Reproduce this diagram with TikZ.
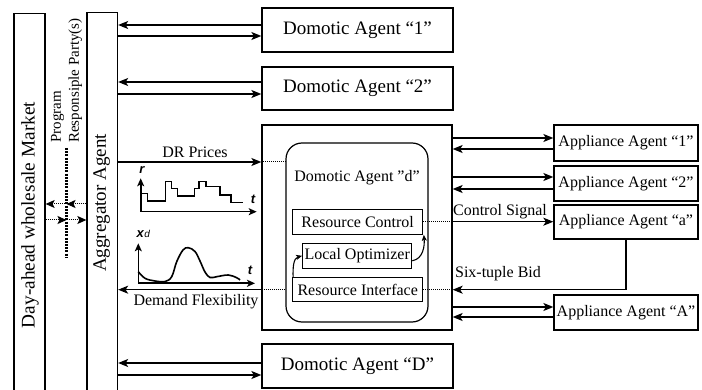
\documentclass[tikz,border=0pt]{standalone}
\usepackage{fontspec}
\setmainfont{Liberation Serif}
\setsansfont{Liberation Sans}
\usetikzlibrary{arrows.meta,calc}

\begin{document}
\begin{tikzpicture}[x=1pt,y=-1pt,
  lw/.style={line width=1.3pt},
  bigbox/.style={draw,lw,inner sep=0pt,font=\fontsize{19}{21}\selectfont},
  appbox/.style={draw,lw,inner sep=0pt,minimum width=144pt,font=\fontsize{16}{18}\selectfont},
  resbox/.style={draw,line width=1.2pt,inner sep=0pt,minimum height=25pt,font=\fontsize{16}{18}\selectfont},
  lbl/.style={inner sep=0pt,font=\fontsize{16}{18}\selectfont},
  arr/.style={lw,-{Stealth[length=10pt,width=8pt,inset=2.5pt]}},
  dotarr/.style={line width=1pt,dash pattern=on 1pt off 1pt,-{Stealth[length=9pt,width=8pt,inset=2pt]}},
  dotln/.style={line width=1pt,dash pattern=on 1pt off 1pt},
  axarr/.style={line width=1.6pt,-{Stealth[length=8pt,width=7pt,inset=2pt]}},
  carr/.style={line width=1.1pt,-{Stealth[length=6pt,width=5pt,inset=1.5pt]}},
  axlbl/.style={inner sep=0pt,font=\fontsize{13}{13}\selectfont\sffamily\bfseries\itshape}]

\clip (0,0) rectangle (702,390);
\fill[white] (0,0) rectangle (702,390);

% left-hand columns: market and aggregator (open at the bottom)
\node[draw,lw,minimum width=31pt,minimum height=400pt,anchor=north] (dam) at (29.5,13) {};
\node[draw,lw,minimum width=30.5pt,minimum height=400pt,anchor=north] (agg) at (102.25,12) {};
\node[rotate=90,inner sep=0pt,font=\fontsize{19.3}{21}\selectfont] (damtxt) at (30,215) {Day-ahead wholesale Market};
\node[rotate=90,inner sep=0pt,font=\fontsize{19}{21}\selectfont] (aggtxt) at (101.7,203) {Aggregator Agent};

% program responsible party
\node[rotate=90,anchor=west,align=left,inner sep=0pt,font=\fontsize{15}{18}\selectfont] (prp) at (66.5,143) {Program\\Responsiple Party(s)};
\coordinate (prT) at (66.5,148);
\coordinate (prB) at (66.5,258);
\draw[line width=2.4pt,dash pattern=on 2pt off 1.2pt] (prT) -- (prB);
\coordinate (prU) at (66.5,204);
\coordinate (prL) at (66.5,220);
\draw[dotarr] (prU -| agg.west) -- (prU);
\draw[dotarr] (prU) -- (prU -| dam.east);
\draw[dotarr] (prL -| dam.east) -- (prL);
\draw[dotarr] (prL) -- (prL -| agg.west);

% domotic agents
\node[bigbox,minimum width=191pt,minimum height=44pt] (d1) at (357.5,30) {Domotic Agent “1”};
\node[bigbox,minimum width=191pt,minimum height=43pt] (d2) at (357.5,88.5) {Domotic Agent “2”};
\node[bigbox,minimum width=191pt,minimum height=44pt] (dD) at (357.5,366) {Domotic Agent “D”};
\node[draw,lw,minimum width=190pt,minimum height=205pt] (dd) at (357,227.5) {};
\node[draw,line width=1.2pt,rounded corners=16pt,minimum width=142pt,minimum height=179pt] (inner) at (357,232.5) {};
\node[lbl] (ddtxt) at (357,178) {Domotic Agent ”d”};

\draw[arr] ([yshift=5pt]d1.west) -- ([yshift=5pt]d1.west -| agg.east);
\draw[arr] ([yshift=-6pt]d1.west -| agg.east) -- ([yshift=-6pt]d1.west);
\draw[arr] ([yshift=6.5pt]d2.west) -- ([yshift=6.5pt]d2.west -| agg.east);
\draw[arr] ([yshift=-5.5pt]d2.west -| agg.east) -- ([yshift=-5.5pt]d2.west);
\draw[arr] ([yshift=3pt]dD.west) -- ([yshift=3pt]dD.west -| agg.east);
\draw[arr] ([yshift=-9pt]dD.west -| agg.east) -- ([yshift=-9pt]dD.west);

% resource blocks inside domotic agent d
\node[resbox,minimum width=130pt] (rc) at (357.7,221.7) {Resource Control};
\node[resbox,minimum width=109pt] (lo) at (357.2,255.8) {Local Optimizer};
\node[resbox,minimum width=130pt,minimum height=24pt] (ri) at (357.7,289.7) {Resource Interface};
\draw[carr] ([xshift=1pt]ri.north west) to[out=92,in=195] (lo.west);
\draw[carr] ([yshift=-5pt]lo.east) to[out=10,in=-85] ([xshift=0.5pt]rc.south east);

% price and demand signals
\coordinate (drp) at (0,162);
\draw[arr] (drp -| agg.east) -- (drp -| dd.west);
\draw[dotln] (drp -| dd.west) -- (drp -| inner.west);
\node[lbl] (drlbl) at (195,152) {DR Prices};
\draw[dotln] (ri.west -| inner.west) -- (ri.west -| dd.west);
\draw[arr] (ri.west -| dd.west) -- (ri.west -| agg.east);
\node[lbl] (dflbl) at (196,302) {Demand Flexibility};

% appliance agents
\node[appbox,minimum height=36pt] (a1) at (626,143) {Appliance Agent “1”};
\node[appbox,minimum height=35pt] (a2) at (626,183.5) {Appliance Agent “2”};
\node[appbox,minimum height=34pt] (aa) at (626,222) {Appliance Agent “a”};
\node[appbox,minimum height=35pt] (aA) at (626,312.5) {Appliance Agent “A”};

\draw[arr] ([yshift=5pt]a1.west -| dd.east) -- ([yshift=5pt]a1.west);
\draw[arr] ([yshift=-6pt]a1.west) -- ([yshift=-6pt]a1.west -| dd.east);
\draw[arr] ([yshift=6.5pt]a2.west -| dd.east) -- ([yshift=6.5pt]a2.west);
\draw[arr] ([yshift=-5.5pt]a2.west) -- ([yshift=-5.5pt]a2.west -| dd.east);
\draw[arr] ([yshift=5.5pt]aA.west -| dd.east) -- ([yshift=5.5pt]aA.west);
\draw[arr] ([yshift=-4.5pt]aA.west) -- ([yshift=-4.5pt]aA.west -| dd.east);

\draw[dotln] (rc.east) -- (rc.east -| dd.east);
\draw[arr] (rc.east -| dd.east) -- (rc.east -| aa.west);
\node[lbl] (cslbl) at (500,212) {Control Signal};
\draw[dotln] (ri.east) -- (ri.east -| dd.east);
\draw[arr] (aa.south) |- (ri.east -| dd.east);
\node[lbl] (sblbl) at (498,274) {Six-tuple Bid};

% price curve
\draw[axarr] (140.7,211.7) -- (140.7,178.3);
\draw[axarr] (140.7,211.7) -- (256.7,211.7);
\node[axlbl] (rlbl) at (142,170) {r};
\node[axlbl] (t1lbl) at (253,199) {t};
\draw[line width=1.4pt] (140.7,193.3) -- (147.7,193.3) -- (147.7,201) -- (165.7,201) -- (165.7,181.7)
  -- (171.7,181.7) -- (171.7,188.3) -- (177.7,188.3) -- (177.7,196) -- (194.3,196) -- (194.3,188.3)
  -- (199,188.3) -- (199,181.7) -- (206,181.7) -- (206,186.7) -- (220,186.7) -- (220,195)
  -- (231,195) -- (231,202.7) -- (243.3,202.7);

% demand curve
\draw[axarr] (138.3,283.3) -- (138.3,243.3);
\draw[axarr] (138.3,283.3) -- (255,283.3);
\node[axlbl,anchor=west] (xlbl) at (136.5,233.5) {x\kern0.5pt{\mdseries\fontsize{10}{10}\selectfont d}};
\node[axlbl] (t2lbl) at (250,270) {t};
\draw[line width=1.6pt] plot[smooth,tension=0.6] coordinates {(138.3,271.7) (145,278.3) (155,281) (165,281.5)
  (171.7,276.7) (176.7,261.7) (183,250) (188.3,247.7) (195,251.5) (200,261) (205,272) (210,277.5)
  (216.7,276.7) (228.3,275) (236.7,277.7) (240,280)};

\end{tikzpicture}
\end{document}
